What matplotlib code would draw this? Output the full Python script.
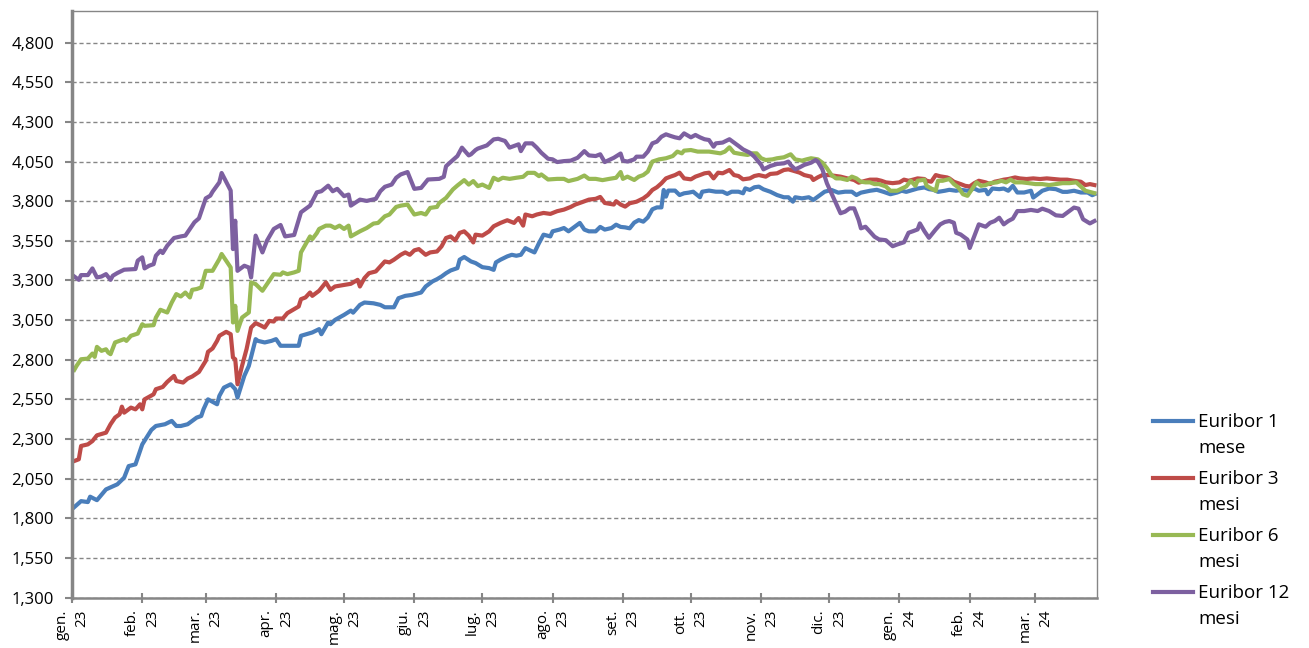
import numpy as np
import pandas as pd
import matplotlib
matplotlib.use("Agg")
import matplotlib.pyplot as plt
import matplotlib.transforms as mtransforms
from matplotlib.lines import Line2D

# %% dati (giorni dal 1 gen 2023)
start = pd.Timestamp("2023-01-01")

days_1m = [1, 4, 7, 8, 11, 15, 20, 23, 25, 28, 29, 31, 35, 37, 41, 44, 46, 48, 51, 53,
           55, 57, 58, 60, 64, 65, 67, 70, 72, 73, 76, 78, 81, 82, 85, 88, 90, 92, 100, 101,
           106, 109, 110, 113, 114, 116, 120, 123, 124, 127, 129, 133, 136, 138, 142, 144, 147, 150, 153, 154,
           156, 159, 161, 163, 165, 167, 170, 171, 173, 176, 178, 181, 184, 186, 187, 189, 192, 194, 196, 198,
           200, 202, 204, 206, 208, 211, 212, 215, 217, 219, 221, 224, 226, 228, 231, 233, 235, 238, 240, 242,
           244, 246, 248, 250, 252, 254, 256, 258, 260, 261, 262, 263, 266, 268, 270, 272, 274, 277, 278, 281,
           284, 287, 289, 291, 294, 296, 297, 299, 301, 303, 305, 308, 311, 314, 316, 318, 319, 322, 325, 327,
           330, 332, 335, 338, 341, 344, 346, 348, 352, 355, 358, 361, 364, 366, 368, 371, 373, 376, 378, 380,
           382, 385, 387, 390, 392, 395, 398, 400, 403, 404, 406, 409, 411, 413, 415, 417, 420, 423, 424, 426,
           428, 431, 434, 437, 439, 442, 445, 448, 450, 451]
euribor_1m = [1870, 1908, 1902, 1936, 1914, 1982, 2014, 2056, 2129, 2140, 2182, 2266, 2357, 2382, 2393, 2414, 2382, 2382, 2393, 2414,
              2435, 2445, 2487, 2550, 2519, 2572, 2624, 2645, 2614, 2561, 2698, 2761, 2930, 2919, 2909, 2919, 2930, 2888, 2888, 2951,
              2972, 2993, 2961, 3035, 3024, 3051, 3083, 3110, 3097, 3146, 3161, 3156, 3146, 3131, 3131, 3188, 3203, 3209, 3220, 3224,
              3262, 3294, 3308, 3325, 3346, 3363, 3378, 3431, 3448, 3420, 3410, 3384, 3378, 3367, 3414, 3431, 3452, 3462, 3456, 3462,
              3504, 3490, 3477, 3536, 3589, 3578, 3610, 3621, 3631, 3610, 3631, 3663, 3621, 3610, 3610, 3638, 3621, 3631, 3652, 3638,
              3635, 3629, 3665, 3681, 3671, 3698, 3749, 3761, 3761, 3871, 3829, 3867, 3867, 3839, 3850, 3854, 3860, 3825, 3860, 3867,
              3860, 3860, 3846, 3860, 3860, 3850, 3881, 3871, 3888, 3892, 3875, 3860, 3839, 3825, 3825, 3797, 3825, 3818, 3825, 3808,
              3839, 3860, 3871, 3854, 3860, 3860, 3839, 3854, 3866, 3872, 3859, 3844, 3855, 3866, 3859, 3872, 3880, 3887, 3876, 3872,
              3859, 3866, 3872, 3866, 3872, 3866, 3880, 3866, 3872, 3844, 3880, 3876, 3880, 3866, 3897, 3855, 3855, 3866, 3823, 3844,
              3866, 3880, 3876, 3859, 3859, 3866, 3855, 3855, 3838, 3844]

days_3m = [1, 3, 4, 7, 9, 11, 15, 17, 19, 21, 22, 23, 26, 28, 30, 31, 32, 36, 37, 40,
           42, 45, 46, 49, 51, 53, 56, 59, 60, 62, 64, 65, 68, 70, 71, 72, 73, 75, 77, 79,
           81, 83, 85, 87, 89, 90, 93, 95, 98, 100, 101, 103, 105, 106, 109, 112, 114, 116, 120, 123,
           126, 127, 129, 131, 134, 136, 138, 140, 142, 145, 147, 149, 151, 153, 156, 158, 161, 163, 165, 167,
           169, 171, 173, 175, 177, 178, 181, 184, 186, 189, 192, 195, 196, 197, 199, 200, 203, 205, 208, 211,
           214, 217, 220, 222, 225, 228, 231, 233, 235, 239, 240, 242, 244, 246, 249, 252, 254, 256, 258, 260,
           262, 264, 266, 268, 270, 273, 275, 277, 279, 281, 283, 285, 287, 290, 292, 294, 296, 299, 301, 303,
           306, 308, 311, 314, 316, 318, 321, 323, 326, 327, 329, 331, 334, 337, 339, 342, 345, 347, 350, 352,
           355, 357, 359, 362, 365, 367, 369, 371, 373, 376, 377, 379, 381, 383, 386, 387, 389, 392, 394, 396,
           398, 400, 403, 405, 407, 409, 411, 413, 416, 418, 421, 424, 427, 430, 433, 436, 439, 442, 445, 447,
           449, 451]
euribor_3m = [2161, 2172, 2256, 2266, 2287, 2323, 2340, 2393, 2435, 2456, 2504, 2466, 2498, 2487, 2519, 2487, 2550, 2582, 2614, 2628,
              2660, 2698, 2666, 2656, 2681, 2694, 2723, 2793, 2850, 2871, 2919, 2951, 2976, 2961, 2814, 2803, 2645, 2761, 2867, 3003,
              3031, 3018, 3003, 3045, 3041, 3060, 3060, 3094, 3119, 3136, 3182, 3193, 3224, 3203, 3235, 3288, 3241, 3262, 3272, 3279,
              3304, 3262, 3315, 3346, 3357, 3388, 3420, 3414, 3431, 3462, 3477, 3462, 3490, 3498, 3462, 3477, 3483, 3515, 3568, 3578,
              3553, 3600, 3610, 3583, 3540, 3589, 3583, 3610, 3642, 3663, 3680, 3663, 3680, 3694, 3646, 3716, 3705, 3716, 3726, 3720,
              3737, 3747, 3764, 3779, 3794, 3810, 3815, 3827, 3789, 3779, 3800, 3779, 3766, 3787, 3797, 3818, 3839, 3871, 3888, 3913,
              3944, 3955, 3965, 3980, 3944, 3938, 3955, 3965, 3976, 3980, 3944, 3980, 3976, 3997, 3965, 3959, 3938, 3944, 3959, 3965,
              3955, 3972, 3976, 3997, 4001, 3993, 3980, 3965, 3955, 3934, 3951, 3965, 3965, 3959, 3955, 3944, 3934, 3917, 3929, 3936,
              3936, 3929, 3919, 3914, 3919, 3936, 3929, 3936, 3944, 3940, 3929, 3923, 3965, 3957, 3950, 3944, 3923, 3908, 3897, 3893,
              3914, 3929, 3919, 3908, 3923, 3929, 3936, 3940, 3950, 3944, 3940, 3944, 3940, 3944, 3940, 3936, 3936, 3929, 3923, 3902,
              3908, 3902]

days_6m = [1, 2, 4, 7, 9, 10, 11, 13, 15, 16, 17, 19, 23, 24, 26, 29, 31, 32, 36, 37,
           39, 42, 44, 46, 48, 50, 52, 53, 55, 57, 59, 62, 65, 66, 70, 71, 72, 73, 75, 78,
           79, 81, 84, 89, 92, 93, 95, 98, 100, 101, 105, 106, 108, 109, 112, 114, 116, 118, 120, 122,
           123, 127, 130, 133, 135, 138, 140, 143, 145, 148, 151, 154, 156, 158, 161, 162, 165, 168, 170, 173,
           175, 177, 179, 181, 184, 186, 188, 190, 193, 196, 199, 201, 204, 206, 207, 210, 214, 217, 219, 223,
           226, 228, 231, 234, 237, 240, 242, 243, 245, 248, 250, 252, 254, 256, 259, 262, 265, 267, 269, 270,
           273, 276, 279, 281, 284, 286, 288, 290, 292, 295, 298, 300, 302, 304, 306, 309, 311, 314, 317, 319,
           322, 324, 326, 329, 331, 333, 335, 337, 339, 342, 344, 346, 348, 350, 352, 354, 356, 359, 361, 364,
           366, 368, 370, 372, 373, 376, 377, 379, 381, 382, 384, 387, 389, 391, 393, 395, 397, 399, 401, 403,
           405, 408, 410, 412, 414, 416, 419, 422, 425, 428, 431, 434, 437, 440, 443, 445, 447, 450, 451]
euribor_6m = [2736, 2761, 2803, 2807, 2839, 2818, 2881, 2856, 2866, 2845, 2835, 2909, 2930, 2919, 2951, 2965, 3024, 3014, 3018, 3066,
              3115, 3098, 3161, 3214, 3199, 3224, 3193, 3241, 3246, 3256, 3361, 3361, 3435, 3467, 3382, 3035, 3140, 2982, 3066, 3098,
              3288, 3277, 3235, 3340, 3336, 3351, 3340, 3351, 3361, 3477, 3578, 3561, 3599, 3625, 3646, 3646, 3631, 3646, 3625, 3646,
              3578, 3610, 3631, 3659, 3663, 3705, 3716, 3764, 3772, 3779, 3716, 3726, 3716, 3758, 3764, 3789, 3821, 3874, 3899, 3933,
              3905, 3927, 3895, 3905, 3884, 3948, 3933, 3948, 3941, 3948, 3954, 3979, 3979, 3958, 3969, 3937, 3941, 3941, 3927, 3941,
              3962, 3941, 3941, 3933, 3941, 3948, 3984, 3941, 3955, 3934, 3955, 3965, 3987, 4050, 4064, 4071, 4085, 4113, 4102, 4119,
              4123, 4113, 4113, 4113, 4106, 4102, 4113, 4140, 4106, 4098, 4092, 4102, 4102, 4071, 4060, 4064, 4071, 4077, 4096, 4064,
              4056, 4064, 4071, 4064, 4043, 4008, 3965, 3944, 3944, 3934, 3955, 3944, 3923, 3919, 3919, 3908, 3908, 3893, 3866, 3866,
              3880, 3893, 3929, 3897, 3929, 3936, 3897, 3880, 3866, 3929, 3929, 3940, 3908, 3887, 3844, 3834, 3876, 3919, 3897, 3902,
              3914, 3919, 3929, 3919, 3936, 3919, 3919, 3914, 3908, 3908, 3902, 3908, 3914, 3914, 3919, 3893, 3866, 3855, 3851]

days_12m = [1, 3, 4, 7, 9, 11, 13, 15, 17, 18, 20, 23, 28, 29, 31, 32, 34, 36, 37, 39,
            40, 42, 45, 48, 50, 52, 54, 56, 59, 61, 62, 65, 66, 70, 71, 72, 73, 76, 78, 79,
            81, 84, 86, 89, 92, 94, 98, 101, 105, 108, 110, 113, 115, 117, 120, 122, 123, 127, 130, 134,
            136, 138, 141, 143, 145, 148, 151, 154, 157, 162, 164, 165, 167, 170, 172, 175, 176, 178, 179, 183,
            186, 188, 191, 193, 197, 198, 200, 203, 205, 207, 210, 212, 214, 217, 220, 223, 226, 228, 231, 233,
            235, 239, 242, 243, 245, 248, 249, 252, 254, 256, 258, 260, 262, 264, 266, 268, 270, 273, 275, 277,
            279, 281, 283, 284, 287, 290, 292, 294, 296, 299, 301, 304, 305, 308, 311, 314, 316, 317, 319, 321,
            323, 326, 328, 329, 331, 333, 335, 337, 339, 341, 343, 345, 347, 348, 350, 352, 354, 356, 359, 362,
            364, 367, 369, 371, 373, 374, 376, 378, 381, 383, 385, 387, 389, 390, 392, 395, 396, 398, 400, 403,
            405, 407, 409, 411, 413, 415, 417, 420, 423, 426, 428, 431, 434, 437, 439, 442, 444, 446, 449, 451]
euribor_12m = [3325, 3304, 3334, 3334, 3376, 3319, 3325, 3340, 3304, 3330, 3347, 3368, 3372, 3425, 3446, 3376, 3393, 3403, 3456, 3488,
               3473, 3519, 3568, 3578, 3583, 3625, 3667, 3692, 3818, 3835, 3860, 3919, 3978, 3867, 3498, 3677, 3361, 3393, 3382, 3319,
               3583, 3477, 3551, 3625, 3650, 3578, 3587, 3730, 3772, 3856, 3863, 3898, 3863, 3878, 3832, 3842, 3772, 3810, 3802, 3815,
               3863, 3891, 3905, 3948, 3969, 3984, 3878, 3884, 3937, 3941, 3954, 4021, 4047, 4085, 4138, 4089, 4096, 4123, 4132, 4152,
               4190, 4194, 4180, 4138, 4159, 4116, 4165, 4165, 4138, 4106, 4068, 4064, 4047, 4053, 4056, 4074, 4116, 4089, 4085, 4096,
               4047, 4074, 4101, 4056, 4050, 4064, 4081, 4081, 4113, 4165, 4176, 4207, 4222, 4212, 4203, 4197, 4228, 4203, 4218, 4203,
               4191, 4186, 4144, 4165, 4170, 4191, 4170, 4149, 4127, 4106, 4081, 4029, 4001, 4022, 4035, 4039, 4050, 4029, 4001, 4014,
               4029, 4043, 4060, 4050, 4001, 3913, 3850, 3787, 3724, 3734, 3755, 3755, 3681, 3629, 3639, 3608, 3576, 3559, 3554, 3516,
               3527, 3541, 3601, 3611, 3622, 3660, 3611, 3569, 3622, 3654, 3669, 3675, 3664, 3601, 3590, 3558, 3505, 3580, 3654, 3639,
               3664, 3675, 3696, 3654, 3675, 3690, 3738, 3738, 3745, 3738, 3753, 3738, 3711, 3707, 3728, 3760, 3753, 3686, 3660, 3675]

serie = [
    ("Euribor 1\nmese", days_1m, euribor_1m, "#4A7EBB"),
    ("Euribor 3\nmesi", days_3m, euribor_3m, "#BE4B48"),
    ("Euribor 6\nmesi", days_6m, euribor_6m, "#98B954"),
    ("Euribor 12\nmesi", days_12m, euribor_12m, "#7D60A0"),
]

mesi = ["gen.", "feb.", "mar.", "apr.", "mag.", "giu.", "lug.", "ago.",
        "set.", "ott.", "nov.", "dic.", "gen.", "feb.", "mar."]
anni = ["23"] * 12 + ["24"] * 3
y_ticks = np.arange(1300, 4801, 250)

# %% grafico
plt.rcParams["font.family"] = ["Open Sans", "DejaVu Sans"]
grigio = "#868686"

fig = plt.figure(figsize=(13.09, 6.48), dpi=100)
ax = fig.add_axes([72 / 1309, 50.5 / 648, 1024.7 / 1309, 586.5 / 648])

for nome, gg, val, col in serie:
    date = start + pd.to_timedelta(gg, unit="D")
    ax.plot(date, val, color=col, lw=3.0, solid_joinstyle="round")

ax.set_xlim(start, start + pd.Timedelta(days=452))
ax.set_ylim(1300, 5000)

ax.set_yticks(y_ticks)
ax.set_yticklabels([f"{v:,.0f}" for v in y_ticks], fontsize=12)
ax.yaxis.grid(True, color=grigio, lw=1, linestyle=(0, (3, 2)))

x_ticks = pd.date_range("2023-01-01", periods=15, freq="MS")
ax.set_xticks(x_ticks)
ax.set_xticklabels([m + "\n" + a for m, a in zip(mesi, anni)], rotation=90,
                   fontsize=11, va="top", ha="center", multialignment="right",
                   linespacing=1.5)
# etichette spostate un po' a destra come in Excel
sposta = mtransforms.ScaledTranslation(5 / 100, 0, fig.dpi_scale_trans)
for lab in ax.get_xticklabels():
    lab.set_transform(lab.get_transform() + sposta)

ax.tick_params(axis="y", direction="out", length=5, width=1.5, color=grigio, pad=8)
ax.tick_params(axis="x", direction="inout", length=7, width=1.5, color=grigio, pad=5)

for lato in ["top", "right"]:
    ax.spines[lato].set_color(grigio)
    ax.spines[lato].set_linewidth(1)
ax.spines["left"].set_color(grigio)
ax.spines["left"].set_linewidth(2.5)
ax.spines["bottom"].set_color(grigio)
ax.spines["bottom"].set_linewidth(1.8)

# legenda a destra
for i, (nome, gg, val, col) in enumerate(serie):
    y = 1 - (421 + i * 57) / 648
    fig.add_artist(Line2D([1153 / 1309, 1193 / 1309], [y, y], color=col, lw=3.0))
    fig.text(1198 / 1309, y + 8 / 648, nome, fontsize=13.5, va="top",
             linespacing=1.6, transform=fig.transFigure)

fig.savefig("out.png", dpi=100)
